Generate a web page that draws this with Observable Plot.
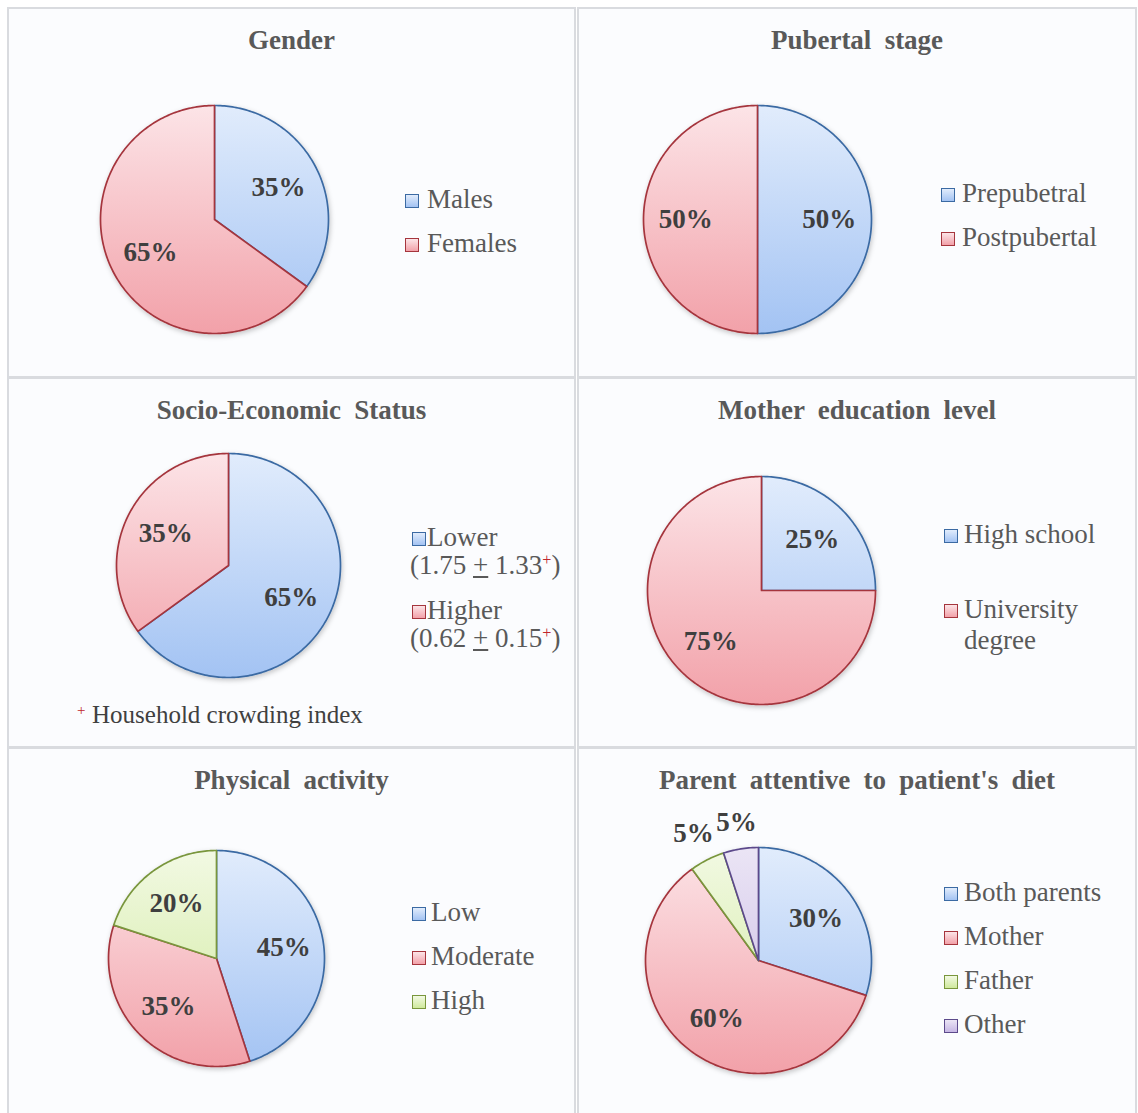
<!DOCTYPE html>
<html>
<head>
<meta charset="utf-8">
<script src="https://cdn.jsdelivr.net/npm/d3@7"></script>
<script src="https://cdn.jsdelivr.net/npm/@observablehq/plot@0.6"></script>
<style>
  body { margin: 0; background: #ffffff; }
  #page { position: relative; width: 1138px; height: 1113px; overflow: hidden;
          font-family: "Liberation Serif", "Times New Roman", serif; }
  .panel { position: absolute; box-sizing: border-box; border: 2px solid #d9dbdf; background: #fbfcfe; }
  .txt { position: absolute; white-space: nowrap; }
  .sw { position: absolute; box-sizing: border-box; width: 14px; height: 14px; border: 1.6px solid; }
  .sup { color: #c0262d; font-size: 0.6em; position: relative; top: -0.55em; }
  .pm { text-decoration: underline; text-underline-offset: 2px; }
  #page svg { position: absolute; overflow: visible; }
</style>
</head>
<body>
<div id="page"></div>
<script>
// ---------- data ----------
const titles = [
  "Gender",
  "Pubertal stage",
  "Socio-Economic Status",
  "Mother education level",
  "Physical activity",
  "Parent attentive to patient's diet"
];

const genderCategories = ["Males", "Females"];
const genderShares = [35, 65];

const pubertalCategories = ["Prepubetral", "Postpubertal"];
const pubertalShares = [50, 50];

const sesCategories = ["Lower", "Higher"];
const sesShares = [65, 35];
const sesCrowdingMean = [1.75, 0.62];
const sesCrowdingSD = [1.33, 0.15];
const sesFootnote = "Household crowding index";

const motherEduCategories = ["High school", "University degree"];
const motherEduShares = [25, 75];

const activityCategories = ["Low", "Moderate", "High"];
const activityShares = [45, 35, 20];

const parentCategories = ["Both parents", "Mother", "Father", "Other"];
const parentShares = [30, 60, 5, 5];

// ---------- styles ----------
const palette = [
  {top: "#e1ecfc", bottom: "#a3c3f3", stroke: "#3b6aa3"},   // blue
  {top: "#fce4e7", bottom: "#f2a1a9", stroke: "#a5353d"},   // red
  {top: "#f2f9e3", bottom: "#cfe99c", stroke: "#79963c"},   // green
  {top: "#ebe5f5", bottom: "#c6b6e4", stroke: "#5c4a8b"}    // purple
];
const labelColor = "#3f3f3f";
const legendColor = "#595959";
const titleColor = "#595959";
const LABEL_FS = 27, LEGEND_FS = 27, TITLE_FS = 27;

// ---------- layout ----------
const LEFT = {left: 7, width: 569}, RIGHT = {left: 577, width: 560};
const ROWS = [{top: 7, height: 371}, {top: 377, height: 371}, {top: 747, height: 380}];

const charts = [
  {id: "gender", title: titles[0], categories: genderCategories, shares: genderShares,
   box: {...LEFT, ...ROWS[0]}, pie: {cx: 214, cy: 219, r: 114}, titleBaseline: 50,
   legend: {swatchX: 405, textX: 427, baselines: [209, 253]}},
  {id: "pubertal", title: titles[1], categories: pubertalCategories, shares: pubertalShares,
   box: {...RIGHT, ...ROWS[0]}, pie: {cx: 757, cy: 219, r: 114}, titleBaseline: 50,
   legend: {swatchX: 941, textX: 962, baselines: [203, 247]}},
  {id: "ses", title: titles[2], categories: sesCategories, shares: sesShares,
   box: {...LEFT, ...ROWS[1]}, pie: {cx: 228, cy: 565, r: 112}, titleBaseline: 420,
   legend: {swatchX: 412, textX: 427, baselines: [547, 620],
            sub: sesCategories.map((_, i) =>
              `(${sesCrowdingMean[i].toFixed(2)} <span class="pm">+</span> ${sesCrowdingSD[i].toFixed(2)}<span class="sup">+</span>)`),
            subX: 410, subGap: 28}},
  {id: "mother", title: titles[3], categories: motherEduCategories, shares: motherEduShares,
   box: {...RIGHT, ...ROWS[1]}, pie: {cx: 761, cy: 590, r: 114}, titleBaseline: 420,
   legend: {swatchX: 944, textX: 964, baselines: [544, 619], wrapWidth: 150, lineHeight: 31}},
  {id: "activity", title: titles[4], categories: activityCategories, shares: activityShares,
   box: {...LEFT, ...ROWS[2]}, pie: {cx: 216, cy: 958, r: 108}, titleBaseline: 790,
   legend: {swatchX: 412, textX: 431, baselines: [922, 966, 1010]}},
  {id: "parent", title: titles[5], categories: parentCategories, shares: parentShares,
   box: {...RIGHT, ...ROWS[2]}, pie: {cx: 758, cy: 960, r: 113}, titleBaseline: 790,
   legend: {swatchX: 944, textX: 964, baselines: [902, 946, 990, 1034]}}
];

const page = document.getElementById("page");
const SVGNS = "http://www.w3.org/2000/svg";

function svgEl(tag, attrs) {
  const e = document.createElementNS(SVGNS, tag);
  for (const k in attrs) e.setAttribute(k, attrs[k]);
  return e;
}

// Place an HTML text block so that its first baseline sits at `baseline`.
function placeText(html, left, baseline, fs, opts = {}) {
  const lh = opts.lineHeight || fs;
  const el = document.createElement("div");
  el.className = "txt";
  el.style.left = left + "px";
  el.style.top = (baseline - ((lh - 1.107 * fs) / 2 + 0.891 * fs)) + "px";
  el.style.fontSize = fs + "px";
  el.style.lineHeight = lh + "px";
  el.style.color = opts.color || legendColor;
  if (opts.bold) el.style.fontWeight = "bold";
  if (opts.width) {
    el.style.width = opts.width + "px";
    el.style.whiteSpace = "normal";
    el.style.textAlign = opts.align || "left";
  }
  if (opts.wordSpacing) el.style.wordSpacing = opts.wordSpacing + "px";
  el.innerHTML = html;
  page.appendChild(el);
  return el;
}

// Closed outline of one pie slice in unit-circle coordinates (y up, clockwise from 12 o'clock).
function sliceOutline(key, a0, a1, style) {
  const pts = [{key, x: 0, y: 0, ...style}];
  const n = Math.max(2, Math.ceil((a1 - a0) / (Math.PI / 180)));
  for (let i = 0; i <= n; ++i) {
    const a = a0 + (a1 - a0) * i / n;
    pts.push({key, x: Math.sin(a), y: Math.cos(a), ...style});
  }
  pts.push({key, x: 0, y: 0, ...style});
  return pts;
}

for (const c of charts) {
  const {box, pie, id} = c;

  // panel frame
  const frame = document.createElement("div");
  frame.className = "panel";
  Object.assign(frame.style, {left: box.left + "px", top: box.top + "px",
                              width: box.width + "px", height: box.height + "px"});
  page.appendChild(frame);

  // slices
  const arcs = d3.pie().sort(null).value(d => d)(c.shares);
  const rows = arcs.flatMap((a, i) =>
    sliceOutline(c.categories[i], a.startAngle, a.endAngle,
                 {fill: `url(#${id}-g${i})`, stroke: palette[i].stroke}));

  // percentage labels: inside at 0.63 r, small slices just outside the rim
  const labels = arcs.map((a, i) => {
    const mid = (a.startAngle + a.endAngle) / 2;
    let k = 0.63;
    if (c.shares[i] < 10) {
      const text = `${c.shares[i]}%`;
      const halfW = (text.length - 1) * 0.5 * LABEL_FS / 2 + 0.5 * LABEL_FS / 2;
      const d = pie.r + 14 + Math.abs(Math.sin(mid)) * halfW + Math.abs(Math.cos(mid)) * 0.42 * LABEL_FS;
      k = d / pie.r;
    }
    return {x: k * Math.sin(mid), y: k * Math.cos(mid), text: `${c.shares[i]}%`};
  });

  const cx = pie.cx - box.left, cy = pie.cy - box.top, r = pie.r;
  const svg = Plot.plot({
    width: box.width,
    height: box.height,
    margin: 0,
    x: {domain: [-1, 1], range: [cx - r, cx + r], axis: null},
    y: {domain: [-1, 1], range: [cy + r, cy - r], axis: null},
    color: {type: "identity"},
    style: {background: "transparent"},
    marks: [
      Plot.line(rows, {x: "x", y: "y", z: "key", fill: "fill", stroke: "stroke",
                       strokeWidth: 1.7, strokeLinejoin: "round"}),
      Plot.text(labels, {x: "x", y: "y", text: "text", fontSize: LABEL_FS, fontWeight: "bold",
                         fontFamily: "Liberation Serif, Times New Roman, serif", fill: labelColor})
    ]
  });
  svg.style.left = box.left + "px";
  svg.style.top = box.top + "px";

  // vertical gradients spanning the whole pie, plus a soft drop shadow
  const defs = svgEl("defs", {});
  palette.forEach((p, i) => {
    const g = svgEl("linearGradient", {id: `${id}-g${i}`, gradientUnits: "userSpaceOnUse",
                                       x1: 0, y1: cy - r, x2: 0, y2: cy + r});
    g.appendChild(svgEl("stop", {offset: 0, "stop-color": p.top}));
    g.appendChild(svgEl("stop", {offset: 1, "stop-color": p.bottom}));
    defs.appendChild(g);
  });
  const f = svgEl("filter", {id: `${id}-shadow`, x: "-20%", y: "-20%", width: "140%", height: "140%"});
  f.appendChild(svgEl("feDropShadow", {dx: 1, dy: 2, stdDeviation: 2.5, "flood-color": "#000", "flood-opacity": 0.22}));
  defs.appendChild(f);
  svg.insertBefore(defs, svg.firstChild);
  const slicesG = svg.querySelector('g[aria-label="line"]');
  if (slicesG) slicesG.setAttribute("filter", `url(#${id}-shadow)`);
  page.appendChild(svg);

  // title
  placeText("", box.left, c.titleBaseline, TITLE_FS,
            {bold: true, width: box.width, align: "center", wordSpacing: 6.5, color: titleColor}).textContent = c.title;

  // legend
  const L = c.legend;
  c.categories.forEach((name, i) => {
    const b = L.baselines[i];
    const sw = document.createElement("div");
    sw.className = "sw";
    Object.assign(sw.style, {left: L.swatchX + "px", top: (b - 15) + "px",
                             borderColor: palette[i].stroke,
                             background: `linear-gradient(${palette[i].top}, ${palette[i].bottom})`});
    page.appendChild(sw);
    const t = placeText("", L.textX, b, LEGEND_FS,
                        L.wrapWidth ? {width: L.wrapWidth, lineHeight: L.lineHeight} : {});
    t.textContent = name;
    if (L.sub) placeText(L.sub[i], L.subX, b + L.subGap, LEGEND_FS);
  });

  if (id === "ses") {
    placeText('<span class="sup">+</span>', 77, 723, 25, {color: "#404040"});
    placeText(sesFootnote, 92, 723, 25, {color: "#404040"});
  }
}
</script>
</body>
</html>
